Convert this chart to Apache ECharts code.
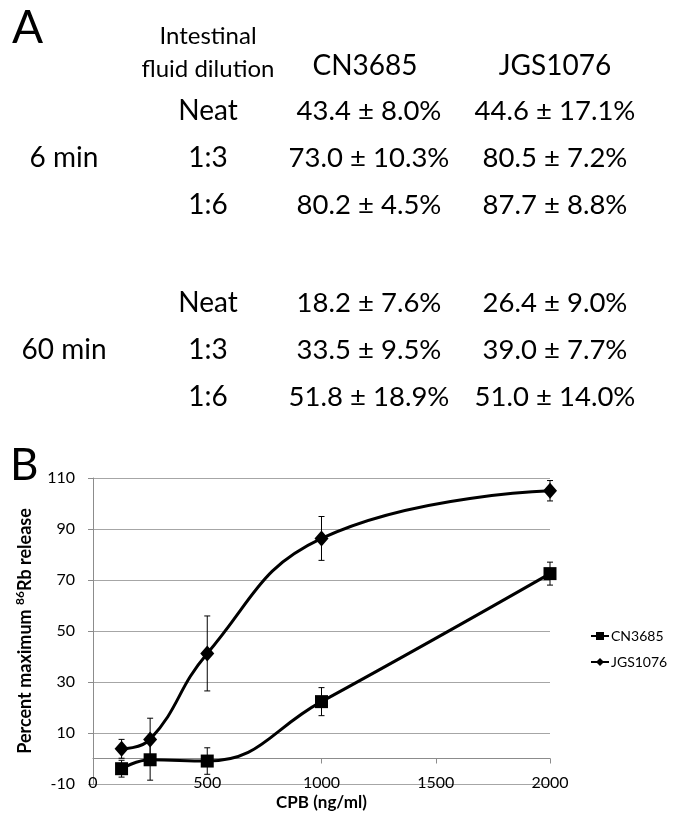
<!DOCTYPE html>
<html>
<head>
<meta charset="utf-8">
<script src="https://cdn.jsdelivr.net/npm/echarts@6/dist/echarts.min.js"></script>
<style>
html,body{margin:0;padding:0;background:#fff;}
#chart{width:677px;height:818px;}
</style>
</head>
<body>
<div id="chart"></div>
<script>
// ---- Panel A table data ----
var strains = ['CN3685', 'JGS1076'];
var dilutions = ['Neat', '1:3', '1:6'];
var times = ['6 min', '60 min'];
var cnMean6 = [43.4, 73.0, 80.2];
var cnSd6 = [8.0, 10.3, 4.5];
var jgsMean6 = [44.6, 80.5, 87.7];
var jgsSd6 = [17.1, 7.2, 8.8];
var cnMean60 = [18.2, 33.5, 51.8];
var cnSd60 = [7.6, 9.5, 18.9];
var jgsMean60 = [26.4, 39.0, 51.0];
var jgsSd60 = [9.0, 7.7, 14.0];

// ---- Panel B chart data ----
var doses = [125, 250, 500, 1000, 2000];
var cn3685 = [-4, -0.5, -1, 22.3, 72.5];
var cn3685Err = [3.3, 8, 5.2, 5.5, 4.5];
var jgs1076 = [3.8, 7.5, 41.2, 86.3, 105];
var jgs1076Err = [3.7, 8.3, 14.7, 8.6, 4];
var yTicks = [-10, 10, 30, 50, 70, 90, 110];
var xTicks = [0, 500, 1000, 1500, 2000];

var FONT = 'Lato, "Open Sans", sans-serif';

function fmt(m, s) { return m.toFixed(1) + ' \u00b1 ' + s.toFixed(1) + '%'; }

function txt(str, x, y, size, align, weight) {
  return {
    type: 'text', x: x, y: y, silent: true,
    style: {
      text: str, fill: '#000', fontSize: size, fontFamily: FONT,
      fontWeight: weight || 'normal',
      align: align || 'center', textAlign: align || 'center',
      verticalAlign: 'middle', textVerticalAlign: 'middle'
    }
  };
}

var graphics = [];
graphics.push(txt('A', 12, 28, 46, 'left'));
graphics.push(txt('B', 10, 466, 44, 'left'));
graphics.push(txt('Intestinal', 208, 36, 24));
graphics.push(txt('fluid dilution', 208, 69, 24));
graphics.push(txt(strains[0], 365, 66, 28));
graphics.push(txt(strains[1], 555, 66, 28));
var groups = [
  {y0: 111, cm: cnMean6, cs: cnSd6, jm: jgsMean6, js: jgsSd6, t: times[0]},
  {y0: 303, cm: cnMean60, cs: cnSd60, jm: jgsMean60, js: jgsSd60, t: times[1]}
];
groups.forEach(function (g) {
  graphics.push(txt(g.t, 64, g.y0 + 47, 28));
  dilutions.forEach(function (d, i) {
    var y = g.y0 + i * 47;
    graphics.push(txt(d, 208, y, 28));
    graphics.push(txt(fmt(g.cm[i], g.cs[i]), 369, y, 27.5));
    graphics.push(txt(fmt(g.jm[i], g.js[i]), 555, y, 27.5));
  });
});

function errData(m, e) {
  return doses.map(function (d, i) { return [d, m[i] - e[i], m[i] + e[i]]; });
}
function errRender(params, api) {
  var x = api.value(0);
  var lo = api.coord([x, api.value(1)]);
  var hi = api.coord([x, api.value(2)]);
  var w = 3;
  var st = {stroke: '#000', lineWidth: 1};
  return {
    type: 'group',
    children: [
      {type: 'line', shape: {x1: lo[0], y1: lo[1], x2: hi[0], y2: hi[1]}, style: st},
      {type: 'line', shape: {x1: lo[0] - w, y1: lo[1], x2: lo[0] + w, y2: lo[1]}, style: st},
      {type: 'line', shape: {x1: hi[0] - w, y1: hi[1], x2: hi[0] + w, y2: hi[1]}, style: st}
    ]
  };
}

var chart = echarts.init(document.getElementById('chart'), null, {renderer: 'canvas'});
chart.setOption({
  backgroundColor: '#fff',
  animation: false,
  textStyle: {fontFamily: FONT},
  graphic: graphics,
  grid: {left: 93, right: 127, top: 478, bottom: 34, containLabel: false, outerBoundsMode: 'none'},
  legend: {
    orient: 'vertical', left: 585, top: 624, itemWidth: 18, itemHeight: 10, itemGap: 12,
    textStyle: {fontSize: 14, color: '#000', fontFamily: FONT, padding: [0, 0, 0, -3]},
    data: ['CN3685', 'JGS1076']
  },
  xAxis: {
    type: 'value', min: xTicks[0], max: xTicks[xTicks.length - 1], interval: 500,
    axisLine: {show: true, onZero: true, lineStyle: {color: '#8c8c8c', width: 1}},
    axisTick: {show: true, length: 5, lineStyle: {color: '#8c8c8c'}},
    axisLabel: {fontSize: 16, color: '#000', margin: -9, fontFamily: FONT,
      formatter: function (v) { return String(v); }},
    splitLine: {show: false},
    name: 'CPB (ng/ml)', nameLocation: 'middle', nameGap: 10,
    nameTextStyle: {fontSize: 17, fontWeight: 'bold', color: '#000', fontFamily: FONT}
  },
  yAxis: {
    type: 'value', min: yTicks[0], max: yTicks[yTicks.length - 1], interval: 20,
    axisLine: {show: true, lineStyle: {color: '#8c8c8c', width: 1}},
    axisTick: {show: true, length: 5, lineStyle: {color: '#8c8c8c'}},
    axisLabel: {fontSize: 16, color: '#000', margin: 18, fontFamily: FONT},
    splitLine: {show: true, lineStyle: {color: '#a6a6a6', width: 1}},
    name: 'Percent maximum {sup|86}Rb release', nameLocation: 'middle', nameRotate: 90, nameGap: 50,
    nameTextStyle: {
      fontSize: 18, fontWeight: 'bold', color: '#000', fontFamily: FONT, lineHeight: 22,
      rich: {sup: {fontSize: 12, fontWeight: 'bold', color: '#000', fontFamily: FONT, verticalAlign: 'top', lineHeight: 12}}
    }
  },
  series: [
    {
      type: 'custom', name: 'errCN', renderItem: errRender, data: errData(cn3685, cn3685Err),
      encode: {x: 0, y: [1, 2]}, z: 1, silent: true
    },
    {
      type: 'custom', name: 'errJGS', renderItem: errRender, data: errData(jgs1076, jgs1076Err),
      encode: {x: 0, y: [1, 2]}, z: 1, silent: true
    },
    {
      type: 'line', name: 'CN3685', smooth: 0.45, z: 3,
      data: doses.map(function (d, i) { return [d, cn3685[i]]; }),
      symbol: 'rect', symbolSize: 13, showAllSymbol: true,
      lineStyle: {color: '#000', width: 3}, itemStyle: {color: '#000'}
    },
    {
      type: 'line', name: 'JGS1076', smooth: 0.45, z: 3,
      data: doses.map(function (d, i) { return [d, jgs1076[i]]; }),
      symbol: 'diamond', symbolSize: [14, 16], showAllSymbol: true,
      lineStyle: {color: '#000', width: 3}, itemStyle: {color: '#000'}
    }
  ]
});
</script>
</body>
</html>
